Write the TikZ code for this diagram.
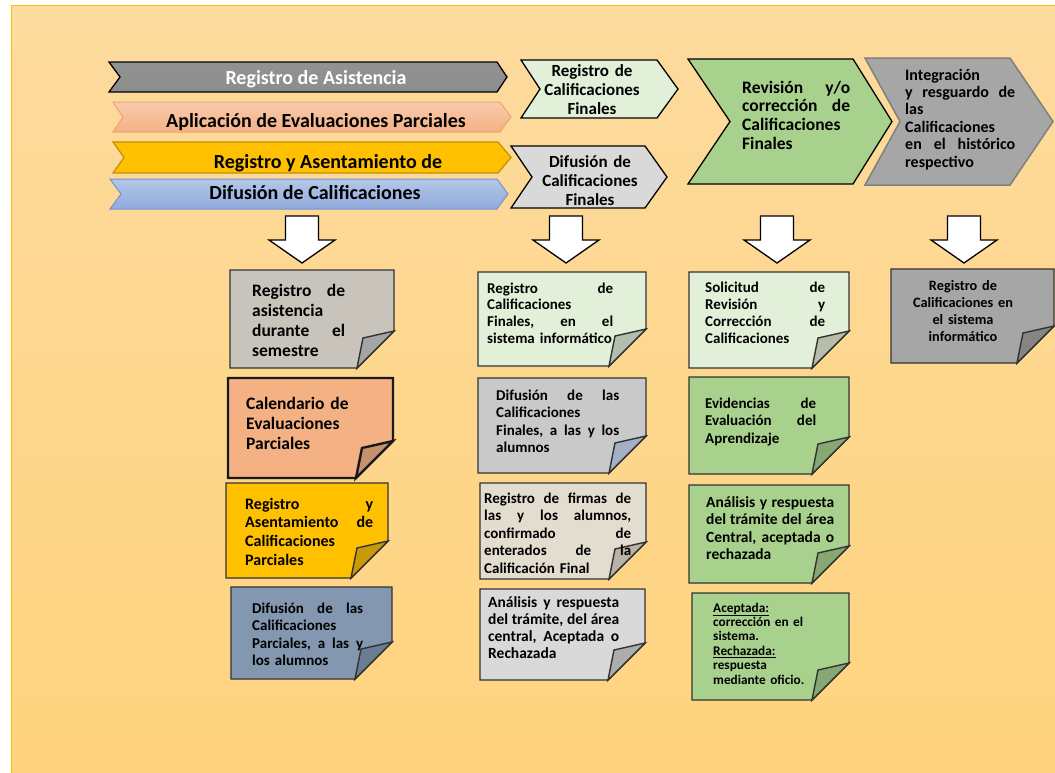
\documentclass[tikz,border=0pt]{standalone}
\usepackage{fontspec}
\setmainfont{Carlito}
\usetikzlibrary{calc}

\definecolor{fondoA}{HTML}{FDDB9E}
\definecolor{fondoB}{HTML}{FFD37E}
\definecolor{bordeFondo}{HTML}{FFC000}
\definecolor{oro}{HTML}{FFC000}
\definecolor{oroD}{HTML}{BF9000}
\definecolor{oroF}{HTML}{C99A06}
\definecolor{salmonA}{HTML}{F8CBAD}
\definecolor{salmonB}{HTML}{F4B183}
\definecolor{salmonD}{HTML}{F2A46E}
\definecolor{salmonF}{HTML}{C5926E}
\definecolor{azulA}{HTML}{B4C7E7}
\definecolor{azulB}{HTML}{8FAADC}
\definecolor{azulD}{HTML}{7393CF}
\definecolor{pizarra}{HTML}{8497B0}
\definecolor{pizarraF}{HTML}{6B7D94}
\definecolor{verdeC}{HTML}{E2F0D9}
\definecolor{verdeCF}{HTML}{B4BEAB}
\definecolor{verde}{HTML}{A9D18E}
\definecolor{verdeF}{HTML}{87A872}
\definecolor{grisC}{HTML}{D9D9D9}
\definecolor{grisCF}{HTML}{ADADAD}
\definecolor{grisF}{HTML}{C9C9C9}
\definecolor{grisFF}{HTML}{A4AFC4}
\definecolor{grisA}{HTML}{C8C4BC}
\definecolor{grisAF}{HTML}{A5A5A5}
\definecolor{beige}{HTML}{E3DDD0}
\definecolor{beigeF}{HTML}{B9B3A7}
\definecolor{grisM}{HTML}{A6A6A6}
\definecolor{grisMF}{HTML}{858585}
\definecolor{grisD}{HTML}{7F7F7F}

% chevron: style, left, top, right, bottom, tip x, notch x
\newcommand\chevron[7]{%
  \path[#1] (#2,#3) -- (#4,#3) -- (#6,{(#3+#5)/2}) -- (#4,#5) -- (#2,#5) -- (#7,{(#3+#5)/2}) -- cycle;}

% note card with folded corner: [extra], name, top-left, bottom-right, fill, flap
\newcommand\notecard[6][]{%
  \coordinate (#2-nw) at (#3);
  \coordinate (#2-se) at (#4);
  \draw[cardline, #1, fill=#5] (#2-nw) -| ($(#2-se)+(0,-37)$) -- ($(#2-se)+(-37,0)$) -| (#2-nw) -- cycle;
  \draw[cardline, #1, fill=#6] ($(#2-se)+(0,-37)$) -- ($(#2-se)+(-31,-30)$) -- ($(#2-se)+(-37,0)$) -- cycle;}

\begin{document}
\begin{tikzpicture}[
  x=1pt, y=-1pt,
  font=\bfseries,
  cardline/.style={draw=black!80, line width=1.4pt},
  bloque/.style={draw=black, line width=1.3pt, fill=white},
  txt/.style={inner sep=0pt, anchor=base west, align=left},
  ctxt/.style={inner sep=0pt, anchor=base, align=center},
  grande/.style={font=\fontsize{20}{22}\selectfont\bfseries},
  alta/.style={font=\fontsize{17.5}{20}\selectfont\bfseries},
  media/.style={font=\fontsize{15}{17.5}\selectfont\bfseries},
  chica/.style={font=\fontsize{13.3}{14.4}\selectfont\bfseries}
]
\useasboundingbox (0,0) rectangle (1055,772);

% page background
\shade[top color=fondoA, bottom color=fondoB] (11,5) rectangle (1060,780);
\draw[bordeFondo, line width=1pt] (11,780) -- (11,5) -- (1060,5);

% phase chevrons, first stage
\chevron{draw=black, line width=1.3pt, top color=gray!85, bottom color=gray!110!black}{109}{62}{497}{92}{507}{120}
\chevron{draw=salmonD, line width=1pt, top color=salmonA, bottom color=salmonB}{113}{102}{500}{132}{511}{123}
\chevron{draw=oroD, line width=1.2pt, fill=oro}{113}{142}{498}{173}{511}{124}
\chevron{draw=azulD, line width=1pt, top color=azulA, bottom color=azulB}{110}{179}{497}{209}{508}{121}

\node[ctxt, grande, text=white] (asist) at (316,84) {Registro de Asistencia};
\node[ctxt, grande] (aplic) at (316,127) {Aplicación de Evaluaciones Parciales};
\node[ctxt, grande] (asent) at (328,168) {Registro y Asentamiento de};
\node[ctxt, grande] (difus) at (315,199) {Difusión de Calificaciones};

% phase chevrons, final stage
\chevron{draw=black, line width=1.3pt, fill=verdeC}{521}{60}{657}{118}{678}{540}
\chevron{draw=black, line width=1.3pt, fill=grisC}{511}{146}{645}{208}{667}{532}
\chevron{draw=black, line width=1.3pt, fill=verde}{688}{59}{853}{184}{892}{730}
\chevron{draw=grisD, line width=1.5pt, fill=grisM}{865}{58}{1010}{185}{1053}{900}

\node[ctxt, font=\fontsize{17}{19}\selectfont\bfseries, text width=130] (regfin) at (592,76)
  {Registro de\\Calificaciones\\Finales};
\node[ctxt, font=\fontsize{17}{19}\selectfont\bfseries, text width=130] (diffin) at (590,167)
  {Difusión de\\Calificaciones\\Finales};
\node[txt, font=\fontsize{17.5}{18.7}\selectfont\bfseries, text width=108] (revis) at (742,93)
  {Revisión\hfill y/o\\corrección\hfill de\\Calificaciones\\Finales};
\node[txt, font=\fontsize{16}{17.4}\selectfont\bfseries, text width=110] (integ) at (905,80)
  {Integración\\y\hfill resguardo\hfill de\\las\\Calificaciones\\en\hfill el\hfill histórico\\respectivo};

% down block arrows
\foreach \c in {302,566,777,964}
  \draw[bloque] (\c-16.5,216) -- (\c+16.5,216) -- (\c+16.5,240) -- (\c+33,240) -- (\c,263)
    -- (\c-33,240) -- (\c-16.5,240) -- cycle;

% cards, column 1
\notecard{cA}{230,270}{394,368}{grisA}{grisAF}
\notecard[line width=2.4pt, draw=black!90]{cB}{228,378}{393,478}{salmonB}{salmonF}
\notecard{cC}{226,483}{388,578}{oro}{oroF}
\notecard{cD}{231,587}{392,679}{pizarra}{pizarraF}

\node[txt, alta, text width=93] (asistSem) at (252,296)
  {Registro\hfill de\\asistencia\\durante\hfill el\\semestre};
\node[txt, alta, text width=130] (calEval) at (246,409)
  {Calendario de\\Evaluaciones\\Parciales};
\node[txt, font=\fontsize{16}{18.7}\selectfont\bfseries, text width=128] (regAsent) at (245,509)
  {Registro\hfill y\\Asentamiento\hfill de\\Calificaciones\\Parciales};
\node[txt, media, text width=111] (difParc) at (252,613)
  {Difusión\hfill de\hfill las\\Calificaciones\\Parciales,\hfill a\hfill las\hfill y\\los alumnos};

% cards, column 2
\notecard{cE}{478,272}{646,366}{verdeC}{verdeCF}
\notecard{cF}{478,378}{646,473}{grisF}{grisFF}
\notecard{cG}{480,483}{646,579}{beige}{beigeF}
\notecard{cH}{480,589}{645,680}{grisC}{grisCF}

\node[txt, font=\fontsize{15}{16.8}\selectfont\bfseries, text width=126] (regSis) at (487,293)
  {Registro\hfill de\\Calificaciones\\Finales,\hfill en\hfill el\\\mbox{sistema informático}};
\node[txt, media, text width=123] (difFin) at (496,400)
  {Difusión\hfill de\hfill las\\Calificaciones\\Finales,\hfill a\hfill las\hfill y\hfill los\\alumnos};
\node[txt, media, text width=147] (firmas) at (484,503)
  {Registro\hfill de\hfill firmas\hfill de\\las\hfill y\hfill los\hfill alumnos,\\confirmado\hfill de\\enterados\hfill de\hfill la\\Calificación Final};
\node[txt, font=\fontsize{15.5}{17}\selectfont\bfseries, text width=131] (anaCen) at (488,607)
  {Análisis\hfill y\hfill respuesta\\del\hfill trámite,\hfill del\hfill área\\central,\hfill Aceptada\hfill o\\Rechazada};

% cards, column 3
\notecard{cI}{689,272}{849,368}{verdeC}{verdeCF}
\notecard{cJ}{689,377}{849,474}{verde}{verdeF}
\notecard{cK}{689,485}{849,583}{verde}{verdeF}
\notecard{cL}{692,593}{849,700}{verde}{verdeF}

\node[txt, font=\fontsize{15}{17}\selectfont\bfseries, text width=120] (solic) at (705,292)
  {Solicitud\hfill de\\Revisión\hfill y\\Corrección\hfill de\\Calificaciones};
\node[txt, media, text width=111] (evid) at (705,408)
  {Evidencias\hfill de\\Evaluación\hfill del\\Aprendizaje};
\node[txt, font=\fontsize{15.5}{17.5}\selectfont\bfseries, text width=128] (anaRes) at (706,507)
  {Análisis\hfill y\hfill respuesta\\del\hfill trámite\hfill del\hfill área\\Central,\hfill aceptada\hfill o\\rechazada};
\node[txt, chica, text width=110] (acept) at (713,612)
  {\underline{Aceptada:}\\corrección en el\\sistema.\\\underline{Rechazada:}\\respuesta\\mediante oficio.};

% card, column 4
\notecard{cM}{891,269}{1054,363}{grisM}{grisMF}

\node[ctxt, font=\fontsize{14.3}{17.3}\selectfont\bfseries, text width=130] (regInf) at (963,290)
  {Registro de\\Calificaciones en\\el sistema\\informático};

\end{tikzpicture}
\end{document}
